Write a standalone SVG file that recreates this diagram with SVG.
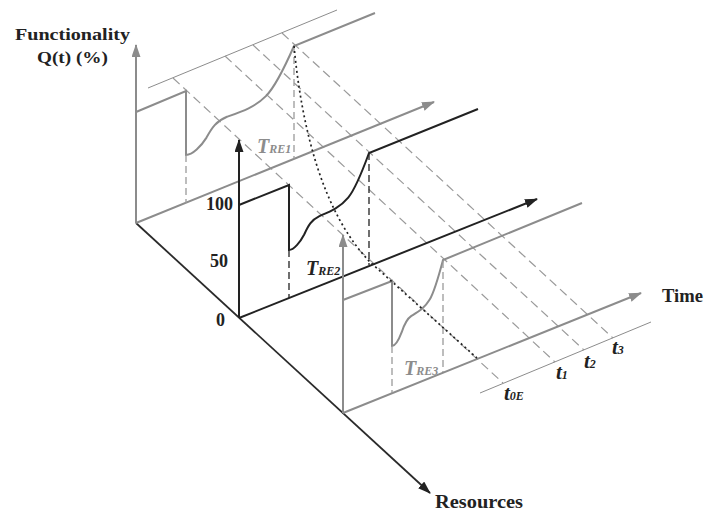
<svg xmlns="http://www.w3.org/2000/svg" width="705" height="514" viewBox="0 0 705 514">
<style>
.bg{fill:#fff}
.g{stroke:#8c8c8c;stroke-width:2;fill:none}
.k{stroke:#222;stroke-width:2;fill:none}
.thin{stroke:#8c8c8c;stroke-width:1;fill:none}
.dg{stroke:#9a9a9a;stroke-width:1.2;fill:none;stroke-dasharray:9,5}
.dgv{stroke:#9a9a9a;stroke-width:1.3;fill:none;stroke-dasharray:7,4}
.dk{stroke:#222;stroke-width:1.3;fill:none;stroke-dasharray:7,4}
.dot{stroke:#222;stroke-width:1.7;fill:none;stroke-dasharray:2,3}
.lbl{font-family:"Liberation Serif","DejaVu Serif",serif;font-weight:bold;fill:#222}
.tl{font-family:"Liberation Serif","DejaVu Serif",serif;font-weight:bold;font-style:italic}
</style>
<defs>
<marker id="ag" markerUnits="userSpaceOnUse" markerWidth="14" markerHeight="10" refX="12" refY="4.5" orient="auto"><path d="M0,0 L13,4.5 L0,9 z" fill="#8c8c8c"/></marker>
<marker id="ak" markerUnits="userSpaceOnUse" markerWidth="14" markerHeight="10" refX="12" refY="4.5" orient="auto"><path d="M0,0 L13,4.5 L0,9 z" fill="#222"/></marker>
</defs>
<rect class="bg" width="705" height="514"/>

<g id="time-ticks">
<line class="thin" x1="148" y1="88" x2="337" y2="10"/>
<line class="thin" x1="480" y1="393" x2="651" y2="322"/>
<line class="dg" x1="173" y1="78" x2="503" y2="383"/>
<line class="dg" x1="225" y1="56" x2="555" y2="362"/>
<line class="dg" x1="253" y1="45" x2="584" y2="350"/>
<line class="dg" x1="282" y1="33" x2="613" y2="338"/>
</g>

<g id="connectors">
<line x1="136" y1="223" x2="430" y2="493" stroke="#2a2a2a" stroke-width="1.8" marker-end="url(#ak)"/>
</g>

<g id="plane-back">
<line class="g" x1="136" y1="223" x2="136" y2="45" marker-end="url(#ag)"/>
<line class="g" x1="136" y1="223" x2="434" y2="102" marker-end="url(#ag)"/>
<path class="g" d="M136,112 L186,91 L186,155 C192.5,155 201.1,146.3 206.5,137.6 C211.9,127.7 216.2,121.2 227,116.8 C242.2,111.4 255.1,107 265.9,96.1 C274.6,87.4 285.4,65.6 294,46 L375,13"/>
<line class="dgv" x1="186" y1="155" x2="186" y2="203"/>
<line class="dgv" x1="294" y1="46" x2="294" y2="159"/>
</g>

<g id="plane-mid">
<line class="k" x1="239" y1="318" x2="239" y2="140" marker-end="url(#ak)"/>
<line class="k" x1="239" y1="318" x2="537" y2="199" marker-end="url(#ak)"/>
<path class="k" d="M239,205 L289,185 L289,250 C293.8,250 300.2,242.2 304.2,234.5 C308.2,225.8 311.4,219.9 319.4,216.1 C330.6,211.2 340.2,207.3 348.2,197.6 C354.6,189.9 362.6,170.5 369,153 L478,109"/>
<line class="dk" x1="289" y1="250" x2="289" y2="298"/>
<line class="dk" x1="369" y1="153" x2="369" y2="265"/>
</g>

<g id="plane-front">
<line class="g" x1="343" y1="413" x2="343" y2="235" marker-end="url(#ag)"/>
<line class="g" x1="343" y1="413" x2="641" y2="293" marker-end="url(#ag)"/>
<path class="g" d="M343,300 L392,281 L392,346 C395.1,346 399.1,339.1 401.7,332.2 C404.2,324.5 406.3,319.3 411.4,315.9 C418.5,311.6 424.6,308.2 429.7,299.6 C433.8,292.7 438.9,275.5 443,260 L582,203"/>
<line class="dgv" x1="392" y1="346" x2="392" y2="393"/>
<line class="dgv" x1="443" y1="261" x2="443" y2="372"/>
</g>

<g id="recovery-trend">
<path class="dot" d="M294,46 C302,130 323,213 370,262 L477,358"/>
</g>

<g id="axis-labels">
<text class="lbl" x="15" y="40" font-size="17" textLength="115" lengthAdjust="spacingAndGlyphs">Functionality</text>
<text class="lbl" x="37" y="63" font-size="17" textLength="71" lengthAdjust="spacingAndGlyphs">Q(t) (%)</text>
<text class="lbl" x="233" y="210" font-size="18" text-anchor="end">100</text>
<text class="lbl" x="228" y="267" font-size="18" text-anchor="end">50</text>
<text class="lbl" x="225" y="326" font-size="18" text-anchor="end">0</text>
<text class="lbl" x="662" y="302" font-size="18" textLength="41" lengthAdjust="spacingAndGlyphs">Time</text>
<text class="lbl" x="435" y="508" font-size="18" textLength="88" lengthAdjust="spacingAndGlyphs">Resources</text>
</g>

<g id="tre-labels">
<text class="tl" x="257" y="153" font-size="20" fill="#8c8c8c">T<tspan font-size="12">RE1</tspan></text>
<text class="tl" x="306" y="275" font-size="20" fill="#222">T<tspan font-size="12">RE2</tspan></text>
<text class="tl" x="404" y="375" font-size="20" fill="#8c8c8c">T<tspan font-size="12">RE3</tspan></text>
</g>

<g id="t-labels">
<text class="tl" x="504" y="400" font-size="21" fill="#222">t<tspan font-size="12">0E</tspan></text>
<text class="tl" x="556" y="379" font-size="21" fill="#222">t<tspan font-size="12">1</tspan></text>
<text class="tl" x="584" y="368" font-size="21" fill="#222">t<tspan font-size="12">2</tspan></text>
<text class="tl" x="612" y="354" font-size="21" fill="#222">t<tspan font-size="12">3</tspan></text>
</g>
</svg>
